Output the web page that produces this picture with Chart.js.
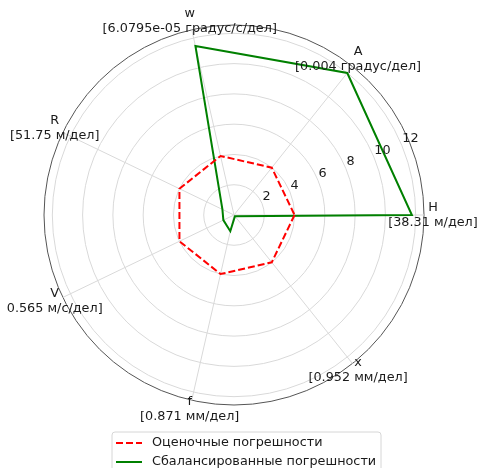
<!DOCTYPE html>
<html>
<head>
<meta charset="utf-8">
<script src="https://cdn.jsdelivr.net/npm/chart.js@4.4.1/dist/chart.umd.min.js"></script>
<style>
  html, body { margin: 0; padding: 0; background: #ffffff; }
  canvas { display: block; }
</style>
</head>
<body>
<canvas id="c" width="480" height="468"></canvas>
<script>
// Categories in the reference's counter-clockwise order, starting at the right (H)
const categories = ['H', 'A', 'w', 'R', 'V', 'f', 'x'];
const unitLabels = ['[38.31 м/дел]', '[0.004 градус/дел]', '[6.0795e-05 градус/с/дел]',
                    '[51.75 м/дел]', '0.565 м/с/дел]', '[0.871 мм/дел]', '[0.952 мм/дел]'];
const estimatedErrors = [4, 4, 4, 4, 4, 4, 4];
const balancedErrors = [11.75, 12.0, 11.45, 0.85, 0.78, 1.1, 0.1];
const radialTicks = [2, 4, 6, 8, 10, 12];
const radialMax = 12.55;
const seriesNames = ['Оценочные погрешности', 'Сбалансированные погрешности'];

// Chart.js goes clockwise, so reorder: H, x, f, V, R, w, A
const order = [0, 6, 5, 4, 3, 2, 1];
const labelsCW = order.map(i => categories[i]);
const unitsCW = order.map(i => unitLabels[i]);
const estCW = order.map(i => estimatedErrors[i]);
const balCW = order.map(i => balancedErrors[i]);

const FONT = '12.8px "DejaVu Sans"';
const TEXT = '#1a1a1a';

const overlay = {
  id: 'overlay',
  afterDraw(chart) {
    const s = chart.scales.r;
    const ctx = chart.ctx;
    ctx.save();
    ctx.font = FONT;
    ctx.fillStyle = TEXT;
    // radial tick labels at 22.5 degrees
    const a = 22.5 * Math.PI / 180;
    ctx.textAlign = 'left';
    ctx.textBaseline = 'middle';
    radialTicks.forEach(v => {
      const d = s.getDistanceFromCenterForValue(v);
      const x = s.xCenter + Math.cos(a) * d;
      const y = s.yCenter - Math.sin(a) * d;
      ctx.fillText(String(v), x + 0.5, y - 6.5);
    });
    // point labels (two lines, centred)
    ctx.textAlign = 'center';
    labelsCW.forEach((lab, i) => {
      const p = s.getPointPosition(i, s.drawingArea + 9);
      ctx.fillText(lab, p.x, p.y - 7.5);
      ctx.fillText(unitsCW[i], p.x, p.y + 7.5);
    });
    // legend
    const lx = 112, ly = 432, lw = 269, lh = 44, r = 3;
    ctx.beginPath();
    ctx.moveTo(lx + r, ly);
    ctx.lineTo(lx + lw - r, ly);
    ctx.arcTo(lx + lw, ly, lx + lw, ly + r, r);
    ctx.lineTo(lx + lw, ly + lh);
    ctx.lineTo(lx, ly + lh);
    ctx.lineTo(lx, ly + r);
    ctx.arcTo(lx, ly, lx + r, ly, r);
    ctx.closePath();
    ctx.fillStyle = 'rgba(255,255,255,0.85)';
    ctx.fill();
    ctx.strokeStyle = '#d6d6d6';
    ctx.lineWidth = 1;
    ctx.stroke();
    const ds = chart.data.datasets;
    const rows = [443, 462];
    ds.forEach((d, i) => {
      ctx.beginPath();
      ctx.strokeStyle = d.borderColor;
      ctx.lineWidth = d.borderWidth;
      ctx.setLineDash(d.borderDash || []);
      ctx.moveTo(116, rows[i]);
      ctx.lineTo(142, rows[i]);
      ctx.stroke();
      ctx.setLineDash([]);
      ctx.fillStyle = TEXT;
      ctx.textAlign = 'left';
      ctx.textBaseline = 'middle';
      ctx.fillText(d.label, 152, rows[i]);
    });
    ctx.restore();
  }
};

new Chart(document.getElementById('c'), {
  type: 'radar',
  data: {
    labels: labelsCW,
    datasets: [
      {
        label: seriesNames[0],
        data: estCW,
        borderColor: '#ff0000',
        borderWidth: 2,
        borderDash: [7, 3],
        fill: false,
        pointRadius: 0,
        tension: 0
      },
      {
        label: seriesNames[1],
        data: balCW,
        borderColor: '#008000',
        borderWidth: 2,
        fill: false,
        pointRadius: 0,
        tension: 0
      }
    ]
  },
  options: {
    responsive: false,
    animation: false,
    layout: { padding: { left: 44, right: 56, top: 25, bottom: 63 } },
    plugins: { legend: { display: false }, tooltip: { enabled: false } },
    elements: { line: { borderJoinStyle: 'miter' } },
    scales: {
      r: {
        min: 0,
        max: radialMax,
        startAngle: 90,
        afterBuildTicks: (scale) => {
          scale.ticks = [0, ...radialTicks, radialMax].map(v => ({ value: v }));
        },
        ticks: { display: false },
        pointLabels: { display: false },
        angleLines: { display: true, color: '#d9d9d9', lineWidth: 1 },
        grid: {
          circular: true,
          color: (c) => (c.tick && c.tick.value >= radialMax - 1e-6) ? '#555555' : '#d9d9d9',
          lineWidth: 1
        }
      }
    }
  },
  plugins: [overlay]
});
</script>
</body>
</html>
